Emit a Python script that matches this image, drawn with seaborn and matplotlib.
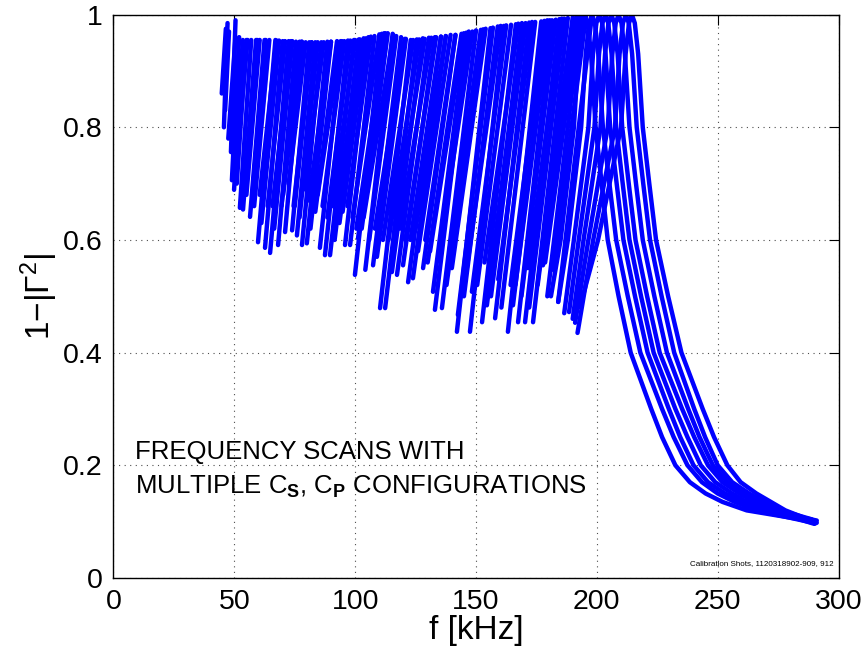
import numpy as np
import pandas as pd
import matplotlib
matplotlib.use("Agg")
import matplotlib.pyplot as plt
import seaborn as sns

# ---- short frequency scans (rising side of each resonance): start point and top point
scan_start_f = [44.8, 45.7, 46.2, 48.6, 49.0, 49.9, 52.3, 53.6, 56.5, 59.8, 62.7, 64.8, 68.1, 71.0,
                73.9, 75.9, 78.0, 80.0, 85.4, 87.5, 89.6, 95.8, 97.9, 99.9, 101.2, 104.2, 107.4,
                110.3, 112.4, 115.2, 117.3, 119.8, 121.9, 123.9, 128.1, 132.2, 133.0, 135.9, 142.1,
                142.5, 147.5, 148.3, 152.5, 154.5, 157.9, 163.2, 165.3, 167.4, 170.3, 173.6, 177.7,
                181.9, 184.0]
scan_start_v = [0.86, 0.80, 0.83, 0.756, 0.706, 0.689, 0.657, 0.654, 0.641, 0.596, 0.586, 0.577,
                0.591, 0.614, 0.617, 0.608, 0.591, 0.594, 0.586, 0.573, 0.573, 0.591, 0.591, 0.538,
                0.603, 0.547, 0.555, 0.479, 0.479, 0.543, 0.538, 0.555, 0.525, 0.532, 0.550, 0.508,
                0.476, 0.479, 0.437, 0.467, 0.437, 0.508, 0.454, 0.484, 0.461, 0.437, 0.484, 0.454,
                0.454, 0.454, 0.555, 0.547, 0.490]
scan_top_f = [46.5, 47.2, 47.8, 50.5, 52.0, 53.5, 57.0, 59.0, 62.5, 67.0, 70.0, 72.5, 75.5, 78.0,
              81.0, 83.5, 86.0, 88.5, 94.5, 97.0, 99.5, 105.5, 108.0, 111.0, 112.0, 115.5, 119.0,
              123.0, 125.5, 128.0, 130.5, 133.0, 135.5, 137.5, 141.5, 146.0, 147.0, 150.0, 156.0,
              157.0, 161.5, 162.5, 166.5, 169.0, 172.0, 177.0, 179.5, 181.5, 184.5, 188.0, 191.5,
              195.5, 198.0]
scan_top_v = [0.975, 0.985, 0.97, 0.99, 0.96, 0.955, 0.955, 0.955, 0.955, 0.955, 0.953, 0.953,
              0.952, 0.952, 0.951, 0.951, 0.951, 0.952, 0.953, 0.954, 0.955, 0.96, 0.962, 0.966,
              0.967, 0.966, 0.96, 0.955, 0.956, 0.958, 0.959, 0.96, 0.961, 0.962, 0.964, 0.968,
              0.97, 0.972, 0.976, 0.977, 0.98, 0.981, 0.983, 0.985, 0.986, 0.988, 0.99, 0.99,
              0.992, 0.994, 0.996, 0.998, 1.0]

# ---- scans whose lower ends are hidden inside the dense band
hidden_start_f = [51.0, 55.0, 58.2, 61.2, 63.8, 66.5, 69.5, 72.5, 75.0, 77.0, 79.0, 81.5, 83.5,
                  86.5, 91.5, 93.5, 96.8, 102.7, 105.8, 109.0, 113.8, 118.5, 126.0, 130.0, 137.8,
                  140.0, 145.0, 150.5, 156.2, 160.5, 166.3, 168.8, 172.0, 175.5, 179.5,
                  47.5, 50.5, 54.3, 57.5, 60.5, 65.8, 70.2, 74.5, 80.8, 84.5, 88.5, 90.5, 92.5,
                  94.8, 98.9, 100.5, 103.5, 108.2, 111.5, 116.3, 120.8, 122.9, 125.0, 129.0, 131.0,
                  134.5, 139.0, 146.2, 153.5, 159.2, 164.3, 171.5, 178.6]
hidden_start_v = [0.70, 0.68, 0.66, 0.63, 0.66, 0.62, 0.66, 0.70, 0.66, 0.64, 0.69, 0.62, 0.65,
                  0.66, 0.60, 0.63, 0.66, 0.62, 0.60, 0.57, 0.60, 0.62, 0.58, 0.56, 0.52,
                  0.55, 0.50, 0.52, 0.50, 0.48, 0.52, 0.50, 0.48, 0.52, 0.50,
                  0.78, 0.72, 0.70, 0.68, 0.68, 0.66, 0.68, 0.66, 0.67, 0.68, 0.64, 0.66, 0.64,
                  0.65, 0.64, 0.62, 0.64, 0.62, 0.60, 0.62, 0.60, 0.60, 0.62, 0.60, 0.58,
                  0.57, 0.58, 0.55, 0.56, 0.53, 0.52, 0.55, 0.56]
hidden_top_f = [55.0, 60.5, 64.5, 68.5, 71.0, 74.0, 77.0, 79.5, 82.0, 84.5, 87.0, 90.0, 92.5,
                95.5, 101.5, 103.5, 106.5, 113.5, 117.0, 121.0, 126.5, 131.5, 139.5, 144.0, 152.0,
                154.0, 159.0, 164.5, 170.5, 174.5, 180.5, 183.0, 186.5, 190.0, 193.5,
                50.5, 55.5, 59.5, 63.0, 67.5, 73.5, 77.8, 82.0, 90.0, 94.0, 98.0, 100.0, 102.0,
                104.5, 110.0, 112.5, 115.8, 120.5, 124.0, 128.8, 133.5, 135.5, 137.5, 141.5, 145.0,
                148.5, 153.0, 160.2, 167.5, 173.2, 178.3, 185.5, 192.6]
hidden_top_v = [0.955, 0.955, 0.955, 0.954, 0.953, 0.953, 0.952, 0.951, 0.951, 0.951, 0.951,
                0.952, 0.953, 0.953, 0.956, 0.958, 0.961, 0.967, 0.962, 0.957, 0.956, 0.959,
                0.964, 0.966, 0.973, 0.975, 0.979, 0.982, 0.985, 0.987, 0.99, 0.991, 0.993,
                0.995, 0.997,
                0.96, 0.955, 0.955, 0.955, 0.954, 0.953, 0.952, 0.951, 0.952, 0.953, 0.954,
                0.955, 0.956, 0.958, 0.965, 0.967, 0.964, 0.957, 0.955, 0.957, 0.96, 0.961,
                0.962, 0.964, 0.967, 0.97, 0.974, 0.98, 0.984, 0.987, 0.989, 0.993, 0.996]

# ---- full resonance scans: rising side (start, then f at 0.6, 0.8, 0.93, 0.985)
full_start_f = [181.0, 184.0, 186.5, 188.5, 190.0, 191.0, 192.0, 193.0]
full_start_v = [0.50, 0.49, 0.47, 0.472, 0.46, 0.453, 0.435, 0.481]
rise_levels = [0.6, 0.8, 0.93, 0.985]
full_rise_f = [
    [185.0, 190.5, 192.4, 193.8],
    [188.0, 193.5, 195.4, 196.8],
    [190.5, 196.5, 198.4, 199.8],
    [192.5, 199.0, 200.9, 202.3],
    [194.5, 201.5, 203.4, 204.8],
    [196.5, 204.5, 206.4, 207.8],
    [198.5, 207.5, 209.4, 210.8],
    [200.5, 210.0, 211.9, 213.3],
]
# falling side: f at each level, starting at the peak (1.0)
fall_levels = [1.0, 0.985, 0.93, 0.8, 0.7, 0.6, 0.5, 0.4, 0.3, 0.25, 0.2, 0.17, 0.15, 0.135, 0.12]
full_fall_f = [
    [195.0, 196.2, 197.6, 199.5, 202.0, 204.5, 209.0, 214.0, 222.5, 227.0, 232.5, 238.5, 245.0, 252.0, 262.0],
    [198.0, 199.2, 200.6, 202.5, 205.2, 208.0, 212.8, 218.0, 227.0, 231.8, 237.5, 243.5, 250.0, 257.0, 266.0],
    [201.0, 202.2, 203.6, 205.5, 208.2, 211.0, 215.8, 221.0, 229.8, 234.5, 240.0, 246.0, 253.0, 259.5, 268.0],
    [203.5, 204.7, 206.1, 208.0, 210.7, 213.5, 218.3, 223.5, 232.5, 237.5, 243.0, 249.0, 256.0, 262.0, 270.0],
    [206.0, 207.2, 208.6, 210.5, 213.2, 216.0, 220.8, 226.0, 235.3, 240.3, 246.0, 252.0, 259.0, 265.0, 272.0],
    [209.0, 210.2, 211.6, 213.5, 216.2, 219.0, 223.8, 229.0, 237.8, 242.5, 248.0, 254.0, 261.0, 267.0, 274.0],
    [212.0, 213.2, 214.6, 216.5, 219.2, 222.0, 226.8, 232.0, 240.3, 244.8, 250.0, 256.0, 263.0, 269.0, 276.0],
    [214.5, 215.7, 217.1, 219.0, 221.7, 224.5, 229.5, 235.0, 243.8, 248.5, 254.0, 259.5, 266.0, 272.0, 278.0],
]
full_end_f = [290.0, 290.5, 289.5, 291.0, 290.0, 290.5, 289.0, 291.0]
full_end_v = [0.100, 0.097, 0.100, 0.102, 0.096, 0.100, 0.104, 0.098]

x_ticks = [0, 50, 100, 150, 200, 250, 300]
y_ticks = [0, 0.2, 0.4, 0.6, 0.8, 1.0]
y_tick_labels = ["0", "0.2", "0.4", "0.6", "0.8", "1"]

# ---- build long table
rows = []
sid = 0
for f0, v0, f1, v1 in zip(scan_start_f + hidden_start_f, scan_start_v + hidden_start_v,
                          scan_top_f + hidden_top_f, scan_top_v + hidden_top_v):
    rows.append((sid, 0, f0, v0))
    rows.append((sid, 1, f1, v1))
    sid += 1
for i in range(len(full_fall_f)):
    fs = [full_start_f[i]] + full_rise_f[i] + full_fall_f[i] + [full_end_f[i]]
    vs = [full_start_v[i]] + rise_levels + fall_levels + [full_end_v[i]]
    for k, (f, v) in enumerate(zip(fs, vs)):
        rows.append((sid, k, f, v))
    sid += 1
df = pd.DataFrame(rows, columns=["scan", "order", "f", "v"])

# ---- style
sns.set_theme(style="white")
plt.rcParams["font.family"] = ["Liberation Sans", "DejaVu Sans"]
plt.rcParams["mathtext.fontset"] = "custom"
plt.rcParams["mathtext.rm"] = "Liberation Sans"
plt.rcParams["mathtext.it"] = "Liberation Sans:italic"
plt.rcParams["mathtext.bf"] = "Liberation Sans:bold"
plt.rcParams["text.color"] = "black"
plt.rcParams["axes.labelcolor"] = "black"

fig = plt.figure(figsize=(8.61, 6.53), dpi=100)
ax = fig.add_axes([0.1318, 0.1149, 0.8421, 0.8627])

sns.lineplot(data=df, x="f", y="v", units="scan", estimator=None, sort=False,
             color="#0000ff", lw=3.2, ax=ax, legend=False)

ax.set_xlim(0, 300)
ax.set_ylim(0, 1)
ax.set_xticks(x_ticks)
ax.set_xticklabels([str(t) for t in x_ticks])
ax.set_yticks(y_ticks)
ax.set_yticklabels(y_tick_labels)
ax.tick_params(direction="in", length=7, width=0.8, top=True, right=True,
               labelsize=20.5, colors="black", pad=8)
ax.grid(True, linestyle=(0, (1, 4)), color="0.3", lw=0.8)
for sp in ax.spines.values():
    sp.set_color("black")
    sp.set_linewidth(1.0)

ax.set_xlabel("f [kHz]", fontsize=24, labelpad=0, color="black")
ax.set_ylabel(r"1$-$|$\Gamma^2$|", fontsize=24, labelpad=2, color="black")

ax.text(9.0, 0.224, "FREQUENCY SCANS WITH", fontsize=18.5, va="center", ha="left", color="black")
ax.text(9.0, 0.162, r"MULTIPLE $\mathrm{C}_{\mathbf{S}}$, $\mathrm{C}_{\mathbf{P}}$ CONFIGURATIONS",
        fontsize=18.5, va="center", ha="left", color="black")
ax.text(298, 0.026, "Calibration Shots, 1120318902-909, 912", fontsize=5.8, ha="right",
        va="center", color="black")

fig.savefig("out.png", dpi=100)
